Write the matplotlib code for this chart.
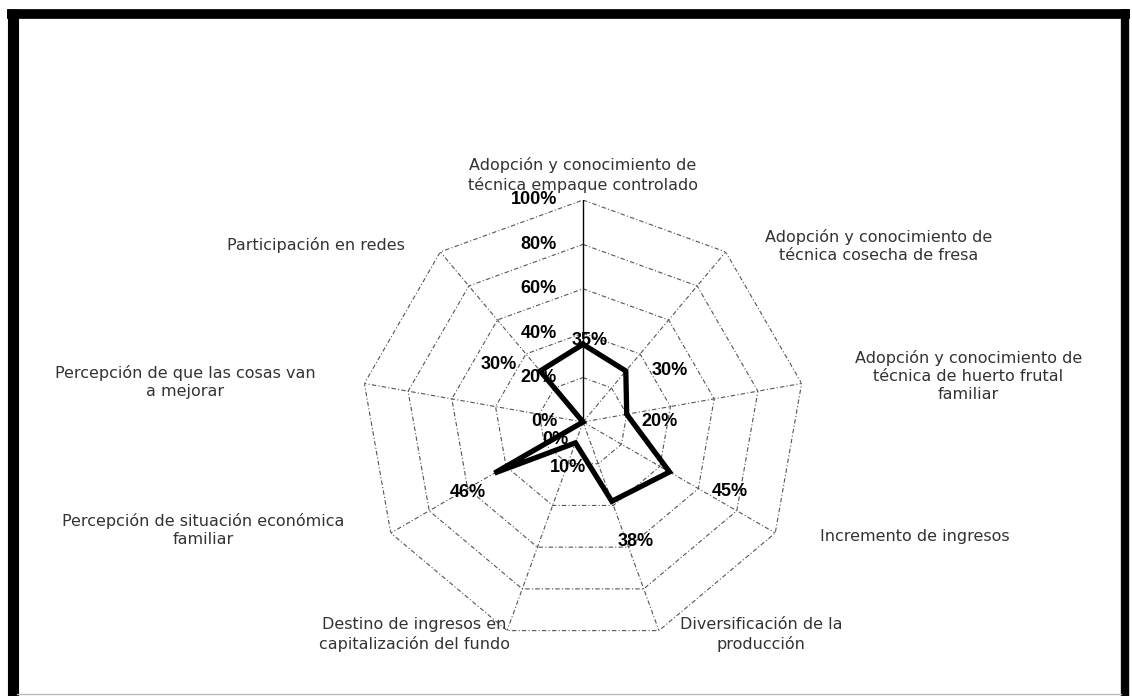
import numpy as np
import matplotlib
matplotlib.use("Agg")
import matplotlib.pyplot as plt

plt.rcParams["font.family"] = ["Liberation Sans", "DejaVu Sans"]

# categories clockwise from the top
CATEGORIES = [
    "Adopción y conocimiento de\ntécnica empaque controlado",
    "Adopción y conocimiento de\ntécnica cosecha de fresa",
    "Adopción y conocimiento de\ntécnica de huerto frutal\nfamiliar",
    "Incremento de ingresos",
    "Diversificación de la\nproducción",
    "Destino de ingresos en\ncapitalización del fundo",
    "Percepción de situación económica\nfamiliar",
    "Percepción de que las cosas van\na mejorar",
    "Participación en redes",
]
VALUES = [0.35, 0.30, 0.20, 0.45, 0.38, 0.10, 0.46, 0.00, 0.30]
VALUE_LABELS = ["35%", "30%", "20%", "45%", "38%", "10%", "46%", "0%", "30%"]
RADIAL_TICKS = [0.0, 0.2, 0.4, 0.6, 0.8, 1.0]
RADIAL_LABELS = ["0%", "20%", "40%", "60%", "80%", "100%"]

# label placement (pixel offsets from the point, y down) and alignment
VALUE_OFFSETS = [(7, -4), (44, 0), (33, 7), (60, 20), (24, 40), (-7, 25), (-27, 19), (-28, 18), (-41, -6)]
CAT_OFFSETS = [(0, -25), (39, -6), (53, -7), (45, 4), (21, 4), (3, 4), (-46, -3), (-49, -1), (-35, -7)]
CAT_HA = ["center", "left", "left", "left", "left", "right", "right", "right", "right"]

W, H = 1132, 696
fig = plt.figure(figsize=(W / 100, H / 100), dpi=100)
cx, cy, R = 583, 422, 222
ax = fig.add_axes([(cx - R) / W, (H - cy - R) / H, 2 * R / W, 2 * R / H], projection="polar")
ax.set_theta_offset(np.pi / 2)
ax.set_theta_direction(-1)

n = len(CATEGORIES)
angles = np.arange(n) * 2 * np.pi / n
closed = np.append(angles, angles[0])

# polygonal grid
grid_style = dict(color="#555555", linewidth=0.8, linestyle=(0, (4, 2, 1, 2)))
for r in RADIAL_TICKS[1:]:
    ax.plot(closed, [r] * (n + 1), **grid_style)
for i, a in enumerate(angles):
    if i == 0:
        ax.plot([a, a], [0, 1], color="black", linewidth=1.0)
    else:
        ax.plot([a, a], [0, 1], **grid_style)

ax.plot(closed, np.append(VALUES, VALUES[0]), color="black", linewidth=3.8, solid_joinstyle="miter")

px = 72 / 100  # pixels -> points
for a, r, lab, (dx, dy) in zip(angles, VALUES, VALUE_LABELS, VALUE_OFFSETS):
    ax.annotate(lab, (a, r), xytext=(dx * px, -dy * px), textcoords="offset points",
                ha="center", va="center", fontsize=13, fontweight="bold", color="black")

for r, lab in zip(RADIAL_TICKS, RADIAL_LABELS):
    ax.annotate(lab, (0, r), xytext=(-26 * px, 0), textcoords="offset points",
                ha="right", va="center", fontsize=13, fontweight="bold", color="black")

for a, lab, (dx, dy), ha in zip(angles, CATEGORIES, CAT_OFFSETS, CAT_HA):
    ax.annotate(lab, (a, 1.0), xytext=(dx * px, -dy * px), textcoords="offset points",
                ha=ha, va="center", multialignment="center", fontsize=11.5, color="#333333",
                family="DejaVu Sans", linespacing=1.25)

ax.set_ylim(0, 1)
ax.grid(False)
ax.set_xticks([])
ax.set_yticks([])
ax.spines["polar"].set_visible(False)
ax.patch.set_visible(False)

# scanned frame
frame = dict(transform=fig.transFigure, color="black", solid_capstyle="butt")
fig.add_artist(plt.Line2D([7 / W, 1130 / W], [1 - 13.5 / H, 1 - 13.5 / H], linewidth=7, **frame))
fig.add_artist(plt.Line2D([12.5 / W, 12.5 / W], [0, 1 - 9 / H], linewidth=8, **frame))
fig.add_artist(plt.Line2D([1125 / W, 1125 / W], [0, 1 - 9 / H], linewidth=6, **frame))
fig.add_artist(plt.Line2D([17 / W, 1121 / W], [2 / H, 2 / H], transform=fig.transFigure, color="#bbbbbb", linewidth=1))

fig.savefig("out.png", dpi=100)
